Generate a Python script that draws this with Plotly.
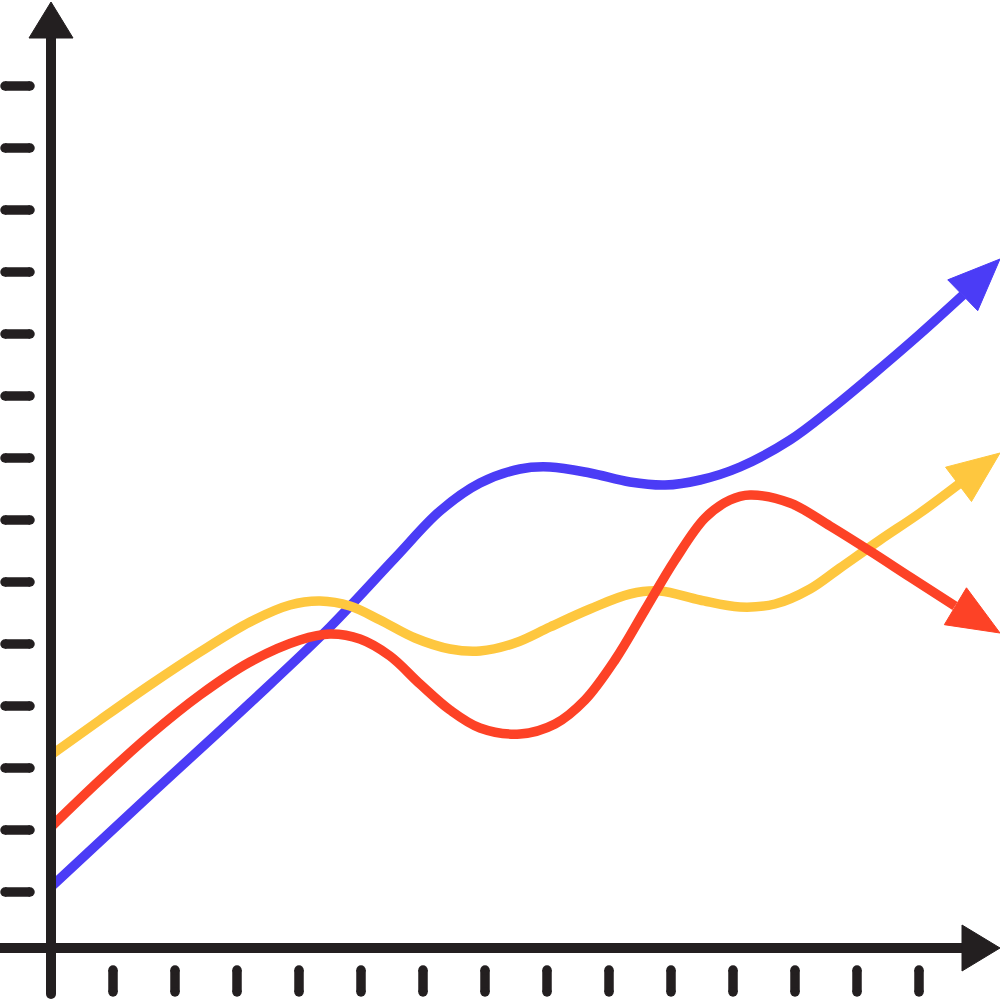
import math
import plotly.graph_objects as go

# Series (x, y in picture units; y measured downward, last point = arrow tip)
blue_x = [51, 150, 250, 330, 395, 440, 480, 520, 550, 590, 630, 665, 700, 740, 790, 830, 870, 920, 963, 1000]
blue_y = [887, 795, 703, 627, 558, 511, 483, 469, 467, 473, 482, 485, 480, 467, 440, 410, 377, 334, 295, 259]

yellow_x = [51, 100, 150, 200, 250, 290, 320, 350, 380, 415, 450, 480, 515, 550, 590, 630, 660, 700, 740, 775, 810, 840, 880, 920, 959, 1000]
yellow_y = [755, 720, 685, 652, 622, 605, 601, 606, 620, 638, 649, 651, 643, 627, 609, 594, 591, 600, 607, 604, 589, 568, 540, 513, 484, 453]

red_x = [51, 100, 150, 200, 250, 300, 330, 360, 390, 420, 450, 480, 520, 555, 585, 615, 645, 675, 705, 730, 750, 790, 830, 870, 910, 955, 1000]
red_y = [827, 780, 735, 695, 662, 640, 634, 639, 656, 684, 710, 728, 734, 724, 700, 660, 610, 560, 518, 500, 495, 503, 526, 551, 577, 606, 633]

# Axis decoration
y_tick_pos = [86, 148, 210, 272, 334, 396, 458, 520, 582, 644, 706, 768, 830, 892]
x_tick_pos = [113, 175, 237, 299, 361, 423, 485, 547, 609, 671, 733, 795, 857, 919]

BLUE = "#4b3cf6"
YELLOW = "#fec73f"
RED = "#fd4226"
BLACK = "#231f20"

fig = go.Figure()


def add_seg(xs, ys, color, w, caps=True):
    fig.add_trace(go.Scatter(
        x=xs, y=ys, mode="lines+markers" if caps else "lines",
        line=dict(color=color, width=w),
        marker=dict(color=color, size=w, line=dict(width=0)),
        hoverinfo="skip", showlegend=False))


def add_tri(pts, color):
    xs = [p[0] for p in pts] + [pts[0][0]]
    ys = [p[1] for p in pts] + [pts[0][1]]
    fig.add_trace(go.Scatter(x=xs, y=ys, mode="lines", fill="toself",
                             fillcolor=color, line=dict(color=color, width=1),
                             hoverinfo="skip", showlegend=False))


def series(xs, ys, color):
    fig.add_trace(go.Scatter(
        x=xs[:-1], y=ys[:-1], mode="lines",
        line=dict(color=color, width=9.5, shape="spline", smoothing=1.0),
        hoverinfo="skip", showlegend=False))
    tx, ty = xs[-1], ys[-1]
    bx, by = xs[-2], ys[-2]
    dx, dy = tx - bx, ty - by
    L = math.hypot(dx, dy)
    ux, uy = dx / L, dy / L
    px, py = -uy, ux
    hl, hw = 52, 21.5
    bx2, by2 = tx - ux * hl, ty - uy * hl
    add_tri([(tx, ty), (bx2 + px * hw, by2 + py * hw), (bx2 - px * hw, by2 - py * hw)], color)


series(blue_x, blue_y, BLUE)
series(yellow_x, yellow_y, YELLOW)
series(red_x, red_y, RED)

# y ticks (horizontal dashes)
for yp in y_tick_pos:
    add_seg([5, 30], [yp, yp], BLACK, 9.5)
# x ticks (vertical dashes)
for xp in x_tick_pos:
    add_seg([xp, xp], [970, 992], BLACK, 9.5)

# axes
add_seg([51, 51], [36, 994], BLACK, 10)
add_seg([0, 964], [948, 948], BLACK, 10, caps=False)
add_tri([(51, 2), (29, 38), (73, 38)], BLACK)
add_tri([(1000, 948), (962, 925), (962, 971)], BLACK)

fig.update_layout(
    width=1000, height=1000,
    margin=dict(l=0, r=0, t=0, b=0),
    paper_bgcolor="white", plot_bgcolor="white",
    xaxis=dict(range=[0, 1000], visible=False, fixedrange=True),
    yaxis=dict(range=[1000, 0], visible=False, fixedrange=True),
)

fig.write_html("out.html", config={"displayModeBar": False},
               post_script="document.body.style.margin='0';document.body.style.overflow='hidden';")
